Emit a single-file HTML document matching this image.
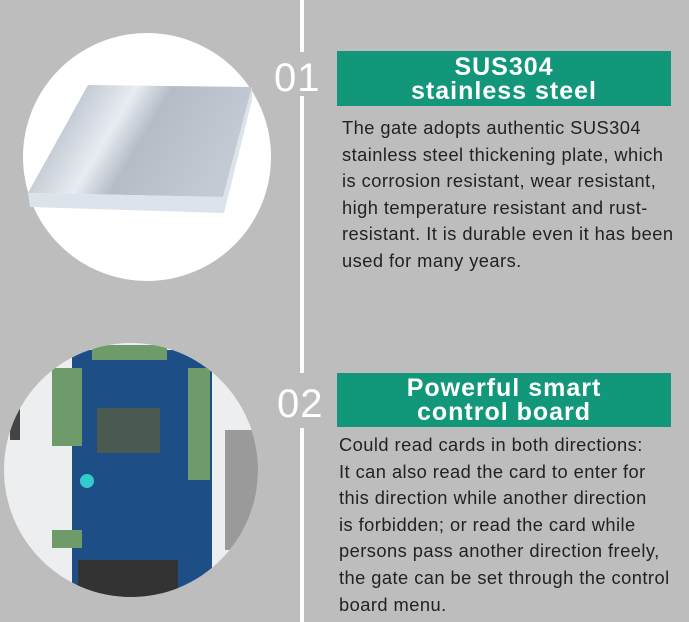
<!DOCTYPE html>
<html><head><meta charset="utf-8"><style>
body{margin:0;width:689px;height:622px;background:#bdbdbd;position:relative;overflow:hidden;font-family:"Liberation Sans","DejaVu Sans",sans-serif}
.a{position:absolute}
.line{background:#fff;width:4px;left:300px}
.box{background:#13977b;color:#fff;text-align:center;font-weight:bold;font-size:25px;line-height:24px;left:337px;width:334px;letter-spacing:1px}
.num{color:#fff;font-size:40px;font-weight:300;letter-spacing:1px}
.txt{color:#222;font-size:18.3px;line-height:26.6px;white-space:nowrap;letter-spacing:0.45px}
</style></head><body>
<div class="a line" style="top:0;height:52px"></div>
<div class="a line" style="top:96px;height:277px"></div>
<div class="a line" style="top:428px;height:194px"></div>
<div class="a num" style="left:274px;top:56px">01</div>
<div class="a num" style="left:277px;top:382px">02</div>
<div class="a box" style="top:51px;height:55px;padding-top:4px;box-sizing:border-box">SUS304<br>stainless steel</div>
<div class="a box" style="top:373px;height:54px;padding-top:3px;box-sizing:border-box">Powerful smart<br>control board</div>
<div class="a txt" style="left:342px;top:115px">The gate adopts authentic SUS304<br>stainless steel thickening plate, which<br>is corrosion resistant, wear resistant,<br>high temperature resistant and rust-<br>resistant. It is durable even it has been<br>used for many years.</div>
<div class="a txt" style="left:339px;top:432px">Could read cards in both directions:<br>It can also read the card to enter for<br>this direction while another direction<br>is forbidden; or read the card while<br>persons pass another direction freely,<br>the gate can be set through the control<br>board menu.</div>
<svg class="a" style="left:0;top:0" width="300" height="622">
<defs>
<linearGradient id="g" x1="0" y1="0" x2="1" y2="0.3"><stop offset="0" stop-color="#9aa3b0"/><stop offset="0.45" stop-color="#e8ecf2"/><stop offset="0.6" stop-color="#b5bcc6"/><stop offset="1" stop-color="#c4cad3"/></linearGradient>
</defs>
<circle cx="147" cy="157" r="124" fill="#fff"/>
<polygon points="88,85 252,87 223,197 28,193" fill="url(#g)"/>
<polygon points="28,193 223,197 252,87 252,100 224,213 30,207" fill="#dde3ea"/>
<circle cx="131" cy="470" r="127" fill="#eceef0"/>
<clipPath id="c"><circle cx="131" cy="470" r="127"/></clipPath>
<g clip-path="url(#c)">
<rect x="225" y="430" width="40" height="120" fill="#9a9a9a"/>
<rect x="72" y="350" width="140" height="260" fill="#1d4f86"/>
<rect x="92" y="345" width="75" height="15" fill="#6f9a6a"/>
<rect x="52" y="368" width="30" height="78" fill="#6f9a6a"/>
<rect x="188" y="368" width="22" height="112" fill="#6f9a6a"/>
<rect x="97" y="408" width="63" height="45" fill="#4a5a50"/>
<rect x="52" y="530" width="30" height="18" fill="#6f9a6a"/>
<rect x="78" y="560" width="100" height="40" fill="#333"/>
<circle cx="87" cy="481" r="7" fill="#3cc"/>
<rect x="10" y="400" width="10" height="40" fill="#444"/>
</g>
</svg>
</body></html>
